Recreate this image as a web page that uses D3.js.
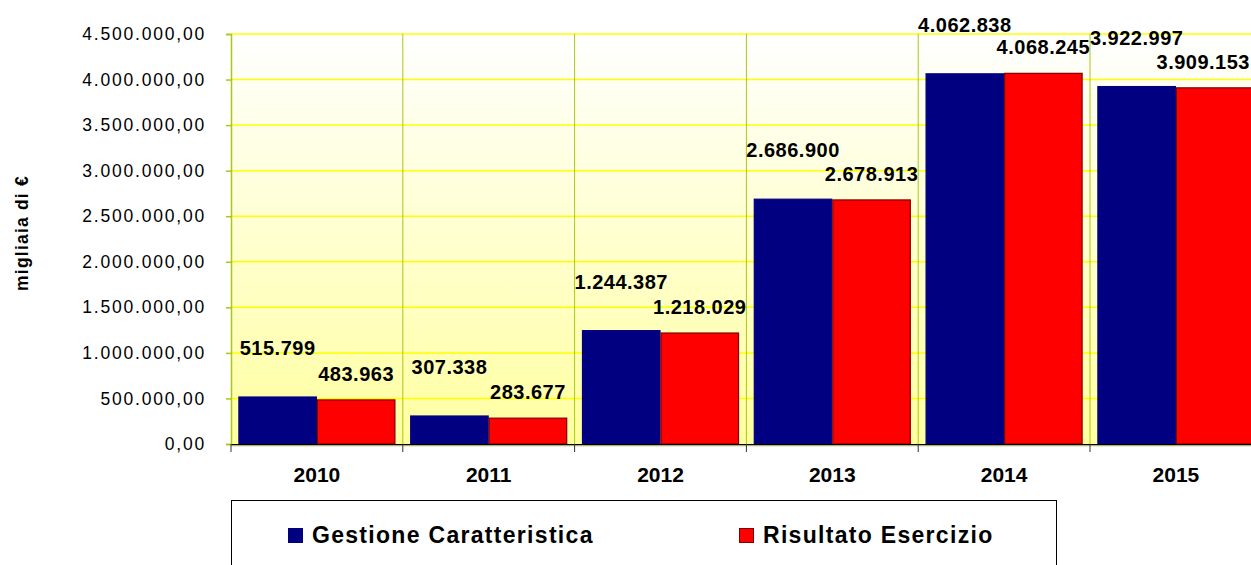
<!DOCTYPE html>
<html>
<head>
<meta charset="utf-8">
<script src="https://cdn.jsdelivr.net/npm/d3@7"></script>
<style>
  body { margin: 0; background: #fff; }
  svg { display: block; font-family: "Liberation Sans", Arial, sans-serif; }
  .ytick text { font-size: 17.5px; letter-spacing: 1.8px; fill: #000; }
  .xlab { font-size: 21px; font-weight: bold; }
  .vlab { font-size: 20px; font-weight: bold; letter-spacing: 0.5px; }
  .leg { font-size: 23px; font-weight: bold; letter-spacing: 1.3px; }
</style>
</head>
<body>
<svg id="chart"></svg>
<script>
// values (migliaia di €)
var years = ["2010", "2011", "2012", "2013", "2014", "2015"];
var gestione = [515799, 307338, 1244387, 2686900, 4062838, 3922997];
var risultato = [483963, 283677, 1218029, 2678913, 4068245, 3909153];
var seriesNames = ["Gestione Caratteristica", "Risultato Esercizio"];
var seriesColors = ["#000080", "#ff0000"];
var seriesStroke = ["#000080", "#800000"];
var yTicks = [0, 500000, 1000000, 1500000, 2000000, 2500000, 3000000, 3500000, 4000000, 4500000];

var width = 1251, height = 565;
var plot = {left: 231, top: 34, bottom: 444, step: 171.8};

var it = d3.formatLocale({decimal: ",", thousands: ".", grouping: [3], currency: ["€", ""]});
var fmtAxis = it.format(",.2f");
var fmtVal = it.format(",d");

var svg = d3.select("#chart")
  .attr("width", width)
  .attr("height", height);

var xScale = d3.scaleBand()
  .domain(years)
  .range([plot.left, plot.left + plot.step * years.length])
  .paddingInner(0.086)
  .paddingOuter(0.043);

var xSeries = d3.scaleBand()
  .domain([0, 1])
  .range([0, xScale.bandwidth()]);

var yScale = d3.scaleLinear()
  .domain([0, 4500000])
  .range([plot.bottom, plot.top]);

var plotRight = plot.left + plot.step * years.length;

// background gradient
var grad = svg.append("defs").append("linearGradient")
  .attr("id", "bg")
  .attr("x1", 0).attr("y1", 0).attr("x2", 0).attr("y2", 1);
grad.append("stop").attr("offset", "0%").attr("stop-color", "#ffffff");
grad.append("stop").attr("offset", "100%").attr("stop-color", "#ffffa0");

svg.append("rect")
  .attr("x", plot.left)
  .attr("y", plot.top)
  .attr("width", plotRight - plot.left)
  .attr("height", plot.bottom - plot.top)
  .attr("fill", "url(#bg)");

// horizontal gridlines
svg.append("g")
  .selectAll("line")
  .data(yTicks.slice(1))
  .join("line")
  .attr("x1", plot.left)
  .attr("x2", plotRight)
  .attr("y1", function(d) { return yScale(d); })
  .attr("y2", function(d) { return yScale(d); })
  .attr("stroke", "#ffff00")
  .attr("stroke-width", 1.5);

// vertical gridlines at category boundaries
svg.append("g")
  .selectAll("line")
  .data(years.slice(1))
  .join("line")
  .attr("x1", function(d) { return xScale(d) - xScale.step() * xScale.paddingInner() / 2; })
  .attr("x2", function(d) { return xScale(d) - xScale.step() * xScale.paddingInner() / 2; })
  .attr("y1", plot.top)
  .attr("y2", plot.bottom)
  .attr("stroke", "#a8c814")
  .attr("stroke-width", 1);

// y axis
var yAxis = svg.append("g")
  .attr("class", "ytick")
  .attr("transform", `translate(${plot.left}, 0)`)
  .call(d3.axisLeft(yScale).tickValues(yTicks).tickFormat(fmtAxis).tickSize(5).tickPadding(20));
yAxis.select(".domain").attr("stroke", "#a8c814").attr("stroke-width", 1.5);
yAxis.selectAll(".tick line").attr("stroke", "#a8c814").attr("stroke-width", 1.5);
yAxis.attr("font-family", null).attr("font-size", null);

// bars
var data = years.map(function(y, i) {
  return {year: y, vals: [gestione[i], risultato[i]]};
});

var groups = svg.append("g")
  .selectAll("g")
  .data(data)
  .join("g")
  .attr("transform", function(d) { return `translate(${xScale(d.year)}, 0)`; });

groups.selectAll("rect")
  .data(function(d) { return d.vals.map(function(v, s) { return {v: v, s: s}; }); })
  .join("rect")
  .attr("x", function(d) { return xSeries(d.s) + 0.5; })
  .attr("y", function(d) { return yScale(d.v); })
  .attr("width", xSeries.bandwidth() - 1)
  .attr("height", function(d) { return plot.bottom - yScale(d.v); })
  .attr("fill", function(d) { return seriesColors[d.s]; })
  .attr("stroke", function(d) { return seriesStroke[d.s]; })
  .attr("stroke-width", 1.2);

// value labels, kept inside the picture like the original
var labelGap = [42, 19];
groups.selectAll("text")
  .data(function(d) { return d.vals.map(function(v, s) { return {v: v, s: s, year: d.year}; }); })
  .join("text")
  .attr("class", "vlab")
  .attr("y", function(d) { return yScale(d.v) - labelGap[d.s]; })
  .attr("text-anchor", "middle")
  .text(function(d) { return fmtVal(d.v); })
  .attr("x", function(d) {
    var cx = xSeries(d.s) + xSeries.bandwidth() / 2;
    var half = this.getComputedTextLength() / 2;
    var maxX = width - xScale(d.year) - half - 1;
    return Math.min(cx, maxX);
  });

// x axis
svg.append("line")
  .attr("x1", plot.left).attr("x2", plotRight)
  .attr("y1", plot.bottom + 1.5).attr("y2", plot.bottom + 1.5)
  .attr("stroke", "#b4b070").attr("stroke-width", 1.5);
var xAxis = svg.append("g")
  .attr("transform", `translate(0, ${plot.bottom})`)
  .call(d3.axisBottom(xScale).tickSize(0).tickPadding(31));
xAxis.select(".domain").attr("stroke", "#000").attr("stroke-width", 1.2);
xAxis.selectAll(".tick text")
  .attr("class", "xlab")
  .attr("dy", "0.35em")
  .attr("fill", "#000");
xAxis.attr("font-family", null).attr("font-size", null);

// category boundary ticks
svg.append("g")
  .selectAll("line")
  .data(years)
  .join("line")
  .attr("x1", function(d) { return xScale(d) - xScale.step() * xScale.paddingInner() / 2; })
  .attr("x2", function(d) { return xScale(d) - xScale.step() * xScale.paddingInner() / 2; })
  .attr("y1", plot.bottom)
  .attr("y2", plot.bottom + 8)
  .attr("stroke", "#333")
  .attr("stroke-width", 1);

// y axis title
svg.append("text")
  .attr("transform", "translate(28, 233) rotate(-90)")
  .attr("text-anchor", "middle")
  .style("font-size", "17.5px")
  .style("font-weight", "bold")
  .style("letter-spacing", "1.2px")
  .text("migliaia di €");

// legend
var legend = svg.append("g");
legend.append("rect")
  .attr("x", plot.left + 0.5)
  .attr("y", 500.5)
  .attr("width", 825)
  .attr("height", 80)
  .attr("fill", "#fff")
  .attr("stroke", "#000")
  .attr("stroke-width", 1);

var legendX = [288, 739];
var items = legend.selectAll("g.item")
  .data(seriesNames)
  .join("g")
  .attr("class", "item")
  .attr("transform", function(d, i) { return `translate(${legendX[i]}, 528)`; });
items.append("rect")
  .attr("x", 0.5).attr("y", 0.5)
  .attr("width", 14).attr("height", 14)
  .attr("fill", function(d, i) { return seriesColors[i]; })
  .attr("stroke", function(d, i) { return seriesStroke[i]; });
items.append("text")
  .attr("class", "leg")
  .attr("x", 24)
  .attr("y", 15)
  .text(function(d) { return d; });
</script>
</body>
</html>
